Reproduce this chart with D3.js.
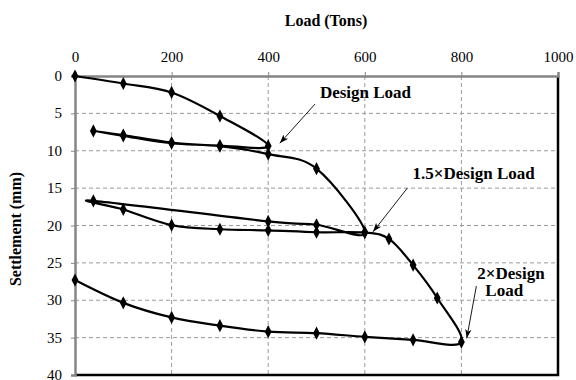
<!DOCTYPE html>
<html>
<head>
<meta charset="utf-8">
<script src="https://cdn.jsdelivr.net/npm/d3@7"></script>
<style>
  body { margin: 0; background: #fff; }
  text { font-family: "Liberation Serif", "DejaVu Serif", serif; }
</style>
</head>
<body>
<script>
// load test readings, in test order (load, unload, reload ...)
var loads = [0, 100, 200, 300, 400, 300, 200, 100, 38,
    100, 200, 300, 400, 500, 600, 500, 400, 38,
    100, 200, 300, 400, 500, 600, 650, 700, 750, 800,
    700, 600, 500, 400, 300, 200, 100, 0];
var settlements = [0, 1.0, 2.2, 5.35, 9.35, 9.3, 8.9, 7.9, 7.35,
    8.0, 9.0, 9.4, 10.45, 12.4, 20.9, 19.9, 19.45, 16.7,
    17.85, 19.95, 20.5, 20.65, 20.9, 20.95, 21.8, 25.3, 29.7, 35.6,
    35.3, 34.9, 34.4, 34.2, 33.4, 32.3, 30.35, 27.3];

var xTicks = [0, 200, 400, 600, 800, 1000];
var yTicks = [0, 5, 10, 15, 20, 25, 30, 35, 40];

// callouts: text lines, where the text starts and where the arrow points
var notes = [
    { lines: ['Design Load'], tx: 507, ty: 3.0, from: [497, 3.75], to: [424, 9.0] },
    { lines: ['1.5\u00d7Design Load'], tx: 699, ty: 13.8, from: [688, 15.0], to: [617, 20.85] },
    { lines: ['2\u00d7Design', 'Load'], tx: 833, ty: 27.1, from: [831, 28.1], to: [811, 35.1] }
];

var width = 576, height = 380;
var pLeft = 75, pRight = 558, pTop = 76, pBottom = 375;

var svg = d3.select('body').append('svg')
    .attr('width', width)
    .attr('height', height);

svg.append('defs').append('marker')
    .attr('id', 'arrow')
    .attr('viewBox', '0 0 10 10')
    .attr('refX', 10).attr('refY', 5)
    .attr('markerWidth', 9).attr('markerHeight', 9)
    .attr('markerUnits', 'userSpaceOnUse')
    .attr('orient', 'auto')
    .append('path')
    .attr('d', 'M0,1.5 L10,5 L0,8.5 L2.5,5 Z')
    .attr('fill', '#000');

var x = d3.scaleLinear().domain([0, 1000]).range([pLeft, pRight]);
var y = d3.scaleLinear().domain([0, 40]).range([pTop, pBottom]);

// grid
svg.append('g')
    .selectAll('line')
    .data(xTicks.slice(1, -1))
    .enter()
    .append('line')
    .attr('x1', function (d) { return x(d); })
    .attr('x2', function (d) { return x(d); })
    .attr('y1', pTop).attr('y2', pBottom)
    .attr('stroke', '#9a9a9a')
    .attr('stroke-dasharray', '4,3');

svg.append('g')
    .selectAll('line')
    .data(yTicks.slice(1, -1))
    .enter()
    .append('line')
    .attr('y1', function (d) { return y(d); })
    .attr('y2', function (d) { return y(d); })
    .attr('x1', pLeft).attr('x2', pRight)
    .attr('stroke', '#9a9a9a')
    .attr('stroke-dasharray', '4,3');

// frame: right and bottom black
svg.append('path')
    .attr('d', 'M' + pLeft + ',' + pBottom + 'H' + pRight + 'V' + pTop)
    .attr('fill', 'none')
    .attr('stroke', '#000')
    .attr('stroke-width', 2.5);

// axes
var xAxis = svg.append('g')
    .attr('transform', 'translate(0,' + pTop + ')')
    .call(d3.axisTop(x).tickValues(xTicks).tickFormat(d3.format('d'))
        .tickSize(4).tickPadding(10));
var yAxis = svg.append('g')
    .attr('transform', 'translate(' + pLeft + ',0)')
    .call(d3.axisLeft(y).tickValues(yTicks).tickSize(4).tickPadding(9));

[xAxis, yAxis].forEach(function (a) {
    a.select('.domain').attr('stroke', '#858585').attr('stroke-width', 2.5);
    a.selectAll('.tick line').attr('stroke', '#858585');
    a.selectAll('.tick text')
        .attr('fill', '#000')
        .style('font-size', '15px')
        .style('font-family', '"Liberation Serif", serif');
});
yAxis.selectAll('.tick text').attr('dy', '0.3em');

svg.append('text')
    .attr('x', 326).attr('y', 26)
    .attr('text-anchor', 'middle')
    .style('font-size', '16px').style('font-weight', 'bold')
    .text('Load (Tons)');

svg.append('text')
    .attr('transform', 'translate(21,' + 229 + ') rotate(-90)')
    .attr('text-anchor', 'middle')
    .style('font-size', '16px').style('font-weight', 'bold')
    .text('Settlement (mm)');

// the curve
var points = loads.map(function (d, i) { return [d, settlements[i]]; });

var line = d3.line()
    .x(function (d) { return x(d[0]); })
    .y(function (d) { return y(d[1]); })
    .curve(d3.curveCardinal.tension(0));

svg.append('path')
    .datum(points)
    .attr('d', line)
    .attr('fill', 'none')
    .attr('stroke', '#000')
    .attr('stroke-width', 2.2);

svg.append('g')
    .selectAll('path')
    .data(points)
    .enter()
    .append('path')
    .attr('d', d3.symbol().type(d3.symbolDiamond).size(50))
    .attr('transform', function (d) {
        return 'translate(' + x(d[0]) + ',' + y(d[1]) + ') scale(0.9,1)';
    })
    .attr('fill', '#000');

// callouts
var note = svg.append('g')
    .selectAll('g')
    .data(notes)
    .enter()
    .append('g');

note.append('line')
    .attr('x1', function (d) { return x(d.from[0]); })
    .attr('y1', function (d) { return y(d.from[1]); })
    .attr('x2', function (d) { return x(d.to[0]); })
    .attr('y2', function (d) { return y(d.to[1]); })
    .attr('stroke', '#000')
    .attr('stroke-width', 0.9)
    .attr('marker-end', 'url(#arrow)');

note.each(function (d) {
    var t = d3.select(this).append('text')
        .attr('x', x(d.tx))
        .attr('y', y(d.ty))
        .attr('dy', '0.35em')
        .style('font-size', '17px')
        .style('font-weight', 'bold');
    d.lines.forEach(function (s, i) {
        t.append('tspan')
            .attr('x', x(d.tx) + (i ? 8 : 0))
            .attr('dy', i ? '1.05em' : 0)
            .text(s);
    });
});
</script>
</body>
</html>
